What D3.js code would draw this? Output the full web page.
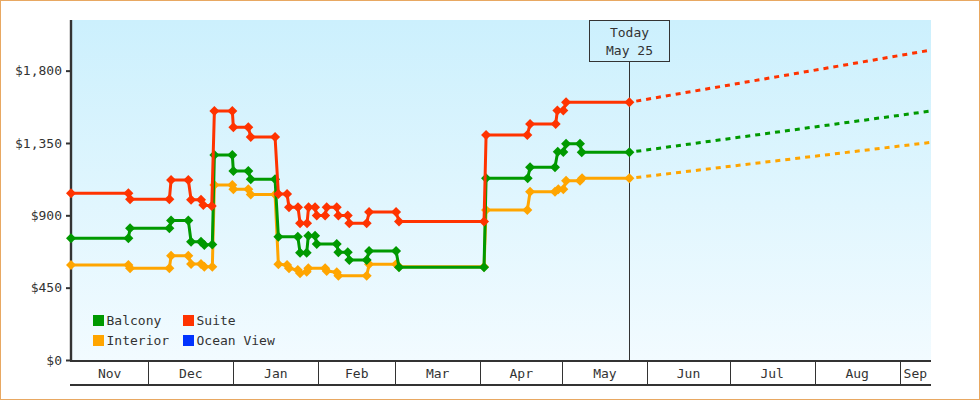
<!DOCTYPE html>
<html>
<head>
<meta charset="utf-8">
<script src="https://cdn.jsdelivr.net/npm/d3@7/dist/d3.min.js"></script>
<style>
  html, body { margin: 0; padding: 0; background: #fff; }
  svg { display: block; }
  text { font-family: "DejaVu Sans Mono", "Liberation Mono", monospace; font-size: 13px; fill: #333; }
</style>
</head>
<body>
<svg id="chart" width="980" height="400"></svg>
<script>
// ---------- data ----------
const monthLabels = ["Nov", "Dec", "Jan", "Feb", "Mar", "Apr", "May", "Jun", "Jul", "Aug", "Sep"];
const yTicks = [0, 450, 900, 1350, 1800];
const rangeStart = "2022-11-02 19";
const rangeEnd = "2023-09-12 10";
const todayDate = "2023-05-25 10";
const todayLabel = ["Today", "May 25"];

const seriesNames = ["Balcony", "Suite", "Interior", "Ocean View"];
const seriesColors = ["#009900", "#ff3300", "#ffa500", "#0033ff"];

const balcony = [
  ["2022-11-02 19", 757], ["2022-11-23 17", 757], ["2022-11-24 08", 819], ["2022-12-08 16", 819],
  ["2022-12-09 07", 867], ["2022-12-15 14", 867], ["2022-12-16 14", 736], ["2022-12-20 05", 736],
  ["2022-12-21 10", 715], ["2022-12-24 08", 718], ["2022-12-25 02", 1275], ["2022-12-31 15", 1275],
  ["2023-01-01 00", 1176], ["2023-01-06 11", 1176], ["2023-01-07 08", 1124], ["2023-01-16 05", 1124],
  ["2023-01-17 10", 767], ["2023-01-24 12", 767], ["2023-01-25 08", 667], ["2023-01-27 18", 667],
  ["2023-01-28 08", 773], ["2023-01-30 19", 773], ["2023-01-31 10", 722], ["2023-02-07 17", 722],
  ["2023-02-08 07", 670], ["2023-02-11 17", 670], ["2023-02-12 07", 622], ["2023-02-18 15", 622],
  ["2023-02-19 12", 678], ["2023-03-01 08", 678], ["2023-03-02 10", 577], ["2023-04-02 10", 577],
  ["2023-04-03 04", 1130], ["2023-04-18 08", 1130], ["2023-04-19 05", 1199], ["2023-04-28 07", 1199],
  ["2023-04-29 07", 1296], ["2023-05-01 08", 1294], ["2023-05-02 08", 1345], ["2023-05-07 10", 1345],
  ["2023-05-08 01", 1292], ["2023-05-25 10", 1292]
];
const suite = [
  ["2022-11-02 19", 1037], ["2022-11-23 17", 1037], ["2022-11-24 08", 1000], ["2022-12-08 16", 1000],
  ["2022-12-09 07", 1120], ["2022-12-15 14", 1120], ["2022-12-16 14", 997], ["2022-12-20 05", 997],
  ["2022-12-21 01", 964], ["2022-12-24 03", 958], ["2022-12-25 02", 1549], ["2022-12-31 15", 1549],
  ["2023-01-01 00", 1448], ["2023-01-06 11", 1448], ["2023-01-07 08", 1387], ["2023-01-16 05", 1387],
  ["2023-01-17 10", 1033], ["2023-01-20 14", 1033], ["2023-01-21 07", 950], ["2023-01-24 14", 950],
  ["2023-01-25 08", 850], ["2023-01-27 21", 850], ["2023-01-28 10", 950], ["2023-01-30 19", 950],
  ["2023-01-31 10", 899], ["2023-02-03 11", 899], ["2023-02-04 01", 950], ["2023-02-07 17", 950],
  ["2023-02-08 07", 899], ["2023-02-11 17", 899], ["2023-02-12 07", 850], ["2023-02-18 15", 850],
  ["2023-02-19 12", 921], ["2023-03-01 08", 921], ["2023-03-02 10", 862], ["2023-04-02 10", 862],
  ["2023-04-03 04", 1400], ["2023-04-18 05", 1400], ["2023-04-19 05", 1468], ["2023-04-28 13", 1468],
  ["2023-04-29 04", 1552], ["2023-05-01 08", 1552], ["2023-05-02 08", 1603], ["2023-05-25 10", 1603]
];
const interior = [
  ["2022-11-02 19", 591], ["2022-11-23 17", 591], ["2022-11-24 08", 570], ["2022-12-08 16", 570],
  ["2022-12-09 07", 649], ["2022-12-15 14", 649], ["2022-12-16 14", 597], ["2022-12-20 05", 597],
  ["2022-12-21 10", 580], ["2022-12-24 08", 580], ["2022-12-25 02", 1089], ["2022-12-31 15", 1089],
  ["2023-01-01 00", 1062], ["2023-01-06 11", 1062], ["2023-01-07 08", 1029], ["2023-01-16 05", 1029],
  ["2023-01-17 10", 595], ["2023-01-20 14", 591], ["2023-01-21 07", 570], ["2023-01-24 12", 560],
  ["2023-01-25 08", 539], ["2023-01-27 18", 549], ["2023-01-28 08", 570], ["2023-02-03 11", 570],
  ["2023-02-04 01", 554], ["2023-02-07 17", 546], ["2023-02-08 07", 524], ["2023-02-18 15", 524],
  ["2023-02-19 12", 595], ["2023-03-01 08", 595], ["2023-03-02 10", 580], ["2023-04-02 10", 580],
  ["2023-04-03 04", 933], ["2023-04-18 05", 933], ["2023-04-19 05", 1047], ["2023-04-28 07", 1047],
  ["2023-04-29 12", 1062], ["2023-05-01 08", 1062], ["2023-05-02 08", 1115], ["2023-05-07 10", 1115],
  ["2023-05-08 04", 1130], ["2023-05-25 10", 1130]
];
const oceanView = [];

const balconyForecast = [["2023-05-25 10", 1292], ["2023-09-12 10", 1549]];
const suiteForecast = [["2023-05-25 10", 1603], ["2023-09-12 10", 1928]];
const interiorForecast = [["2023-05-25 10", 1130], ["2023-09-12 10", 1354]];
const oceanViewForecast = [];

// ---------- layout ----------
const W = 980, H = 400;
const plot = { left: 71, right: 931, top: 20, bottom: 360 };
const bandBottom = 385;

const parse = d3.timeParse("%Y-%m-%d %H");
const svg = d3.select("#chart");

const x = d3.scaleTime()
  .domain([parse(rangeStart), parse(rangeEnd)])
  .range([plot.left, plot.right]);
const y = d3.scaleLinear()
  .domain([0, 2115])
  .range([plot.bottom, plot.top]);

// outer border
svg.append("rect").attr("x", 0.5).attr("y", 0.5).attr("width", W - 1).attr("height", H - 1)
  .attr("fill", "#fff").attr("stroke", "#e8a862").attr("stroke-width", 1);

// gradient background
const defs = svg.append("defs");
const grad = defs.append("linearGradient").attr("id", "bg").attr("x1", 0).attr("y1", 0).attr("x2", 0).attr("y2", 1);
grad.append("stop").attr("offset", "0%").attr("stop-color", "#ccf0fd");
grad.append("stop").attr("offset", "100%").attr("stop-color", "#f2fbff");
svg.append("rect").attr("x", plot.left).attr("y", plot.top)
  .attr("width", plot.right - plot.left).attr("height", plot.bottom - plot.top)
  .attr("fill", "url(#bg)");

// month bands (x axis)
const [d0, d1] = x.domain();
const monthStarts = d3.timeMonth.range(d3.timeMonth.ceil(d0), d1);
const bounds = [d0, ...monthStarts, d1];
const axisG = svg.append("g").attr("shape-rendering", "crispEdges");
axisG.append("line").attr("x1", plot.left - 1).attr("x2", plot.right)
  .attr("y1", plot.bottom + 0.5).attr("y2", plot.bottom + 0.5)
  .attr("stroke", "#333").attr("stroke-width", 2);
axisG.append("line").attr("x1", plot.left - 1).attr("x2", plot.right)
  .attr("y1", bandBottom).attr("y2", bandBottom)
  .attr("stroke", "#333").attr("stroke-width", 1.2);
axisG.selectAll("line.sep").data(monthStarts).join("line").attr("class", "sep")
  .attr("x1", d => Math.round(x(d)) + 0.5).attr("x2", d => Math.round(x(d)) + 0.5)
  .attr("y1", plot.bottom).attr("y2", bandBottom)
  .attr("stroke", "#333").attr("stroke-width", 1.2);
svg.append("g").selectAll("text.month").data(monthLabels).join("text").attr("class", "month")
  .attr("x", (d, i) => (x(bounds[i]) + x(bounds[i + 1])) / 2)
  .attr("y", (plot.bottom + bandBottom) / 2 + 5)
  .attr("text-anchor", "middle")
  .text(d => d);

// y axis
const yAxisG = svg.append("g").attr("transform", `translate(${plot.left},0)`)
  .call(d3.axisLeft(y).tickValues(yTicks).tickSize(5).tickPadding(4)
    .tickFormat(d => "$" + d3.format(",")(d)));
yAxisG.select(".domain").remove();
yAxisG.selectAll(".tick line").attr("stroke", "#333").attr("stroke-width", 2);
yAxisG.selectAll(".tick text").attr("font-family", null).attr("font-size", null).style("fill", "#333");
svg.append("line").attr("x1", plot.left).attr("x2", plot.left)
  .attr("y1", plot.top).attr("y2", plot.bottom + 1)
  .attr("stroke", "#333").attr("stroke-width", 2.4);

// today marker
const tx = Math.round(x(parse(todayDate))) + 0.5;
const boxTop = plot.top, boxBottom = 61, boxHalf = 40;
svg.append("line").attr("x1", tx).attr("x2", tx).attr("y1", boxBottom).attr("y2", plot.bottom)
  .attr("stroke", "#333").attr("stroke-width", 1).attr("shape-rendering", "crispEdges");
svg.append("rect").attr("x", tx - boxHalf).attr("y", boxTop + 0.5)
  .attr("width", boxHalf * 2).attr("height", boxBottom - boxTop - 0.5)
  .attr("fill", "none").attr("stroke", "#333").attr("stroke-width", 1).attr("shape-rendering", "crispEdges");
svg.append("g").selectAll("text").data(todayLabel).join("text")
  .attr("x", tx).attr("y", (d, i) => 37 + i * 18).attr("text-anchor", "middle").text(d => d);

// series (drawing order: Interior, Balcony, Suite, Ocean View)
const allSeries = [
  { name: "Interior", color: seriesColors[2], data: interior, forecast: interiorForecast },
  { name: "Balcony", color: seriesColors[0], data: balcony, forecast: balconyForecast },
  { name: "Suite", color: seriesColors[1], data: suite, forecast: suiteForecast },
  { name: "Ocean View", color: seriesColors[3], data: oceanView, forecast: oceanViewForecast }
];
const line = d3.line().x(d => x(parse(d[0]))).y(d => y(d[1]));
const diamond = "M0,-5L5,0L0,5L-5,0Z";

allSeries.forEach(s => {
  if (s.forecast.length) {
    svg.append("path").attr("d", line(s.forecast)).attr("fill", "none")
      .attr("stroke", s.color).attr("stroke-width", 3)
      .attr("stroke-dasharray", "5,5").attr("stroke-dashoffset", -7);
  }
});
allSeries.forEach(s => {
  if (!s.data.length) return;
  svg.append("path").attr("d", line(s.data)).attr("fill", "none")
    .attr("stroke", s.color).attr("stroke-width", 3).attr("stroke-linejoin", "round");
  svg.append("g").selectAll("path").data(s.data).join("path")
    .attr("d", diamond)
    .attr("transform", d => `translate(${x(parse(d[0]))},${y(d[1])})`)
    .attr("fill", s.color);
});

// legend
const legendItems = [
  { name: seriesNames[0], color: seriesColors[0], col: 0, row: 0 },
  { name: seriesNames[1], color: seriesColors[1], col: 1, row: 0 },
  { name: seriesNames[2], color: seriesColors[2], col: 0, row: 1 },
  { name: seriesNames[3], color: seriesColors[3], col: 1, row: 1 }
];
const lg = svg.append("g").selectAll("g").data(legendItems).join("g")
  .attr("transform", d => `translate(${93 + d.col * 90},${315 + d.row * 20})`);
lg.append("rect").attr("width", 11).attr("height", 11).attr("fill", d => d.color);
lg.append("text").attr("x", 13.5).attr("y", 10).text(d => d.name);
</script>
</body>
</html>
